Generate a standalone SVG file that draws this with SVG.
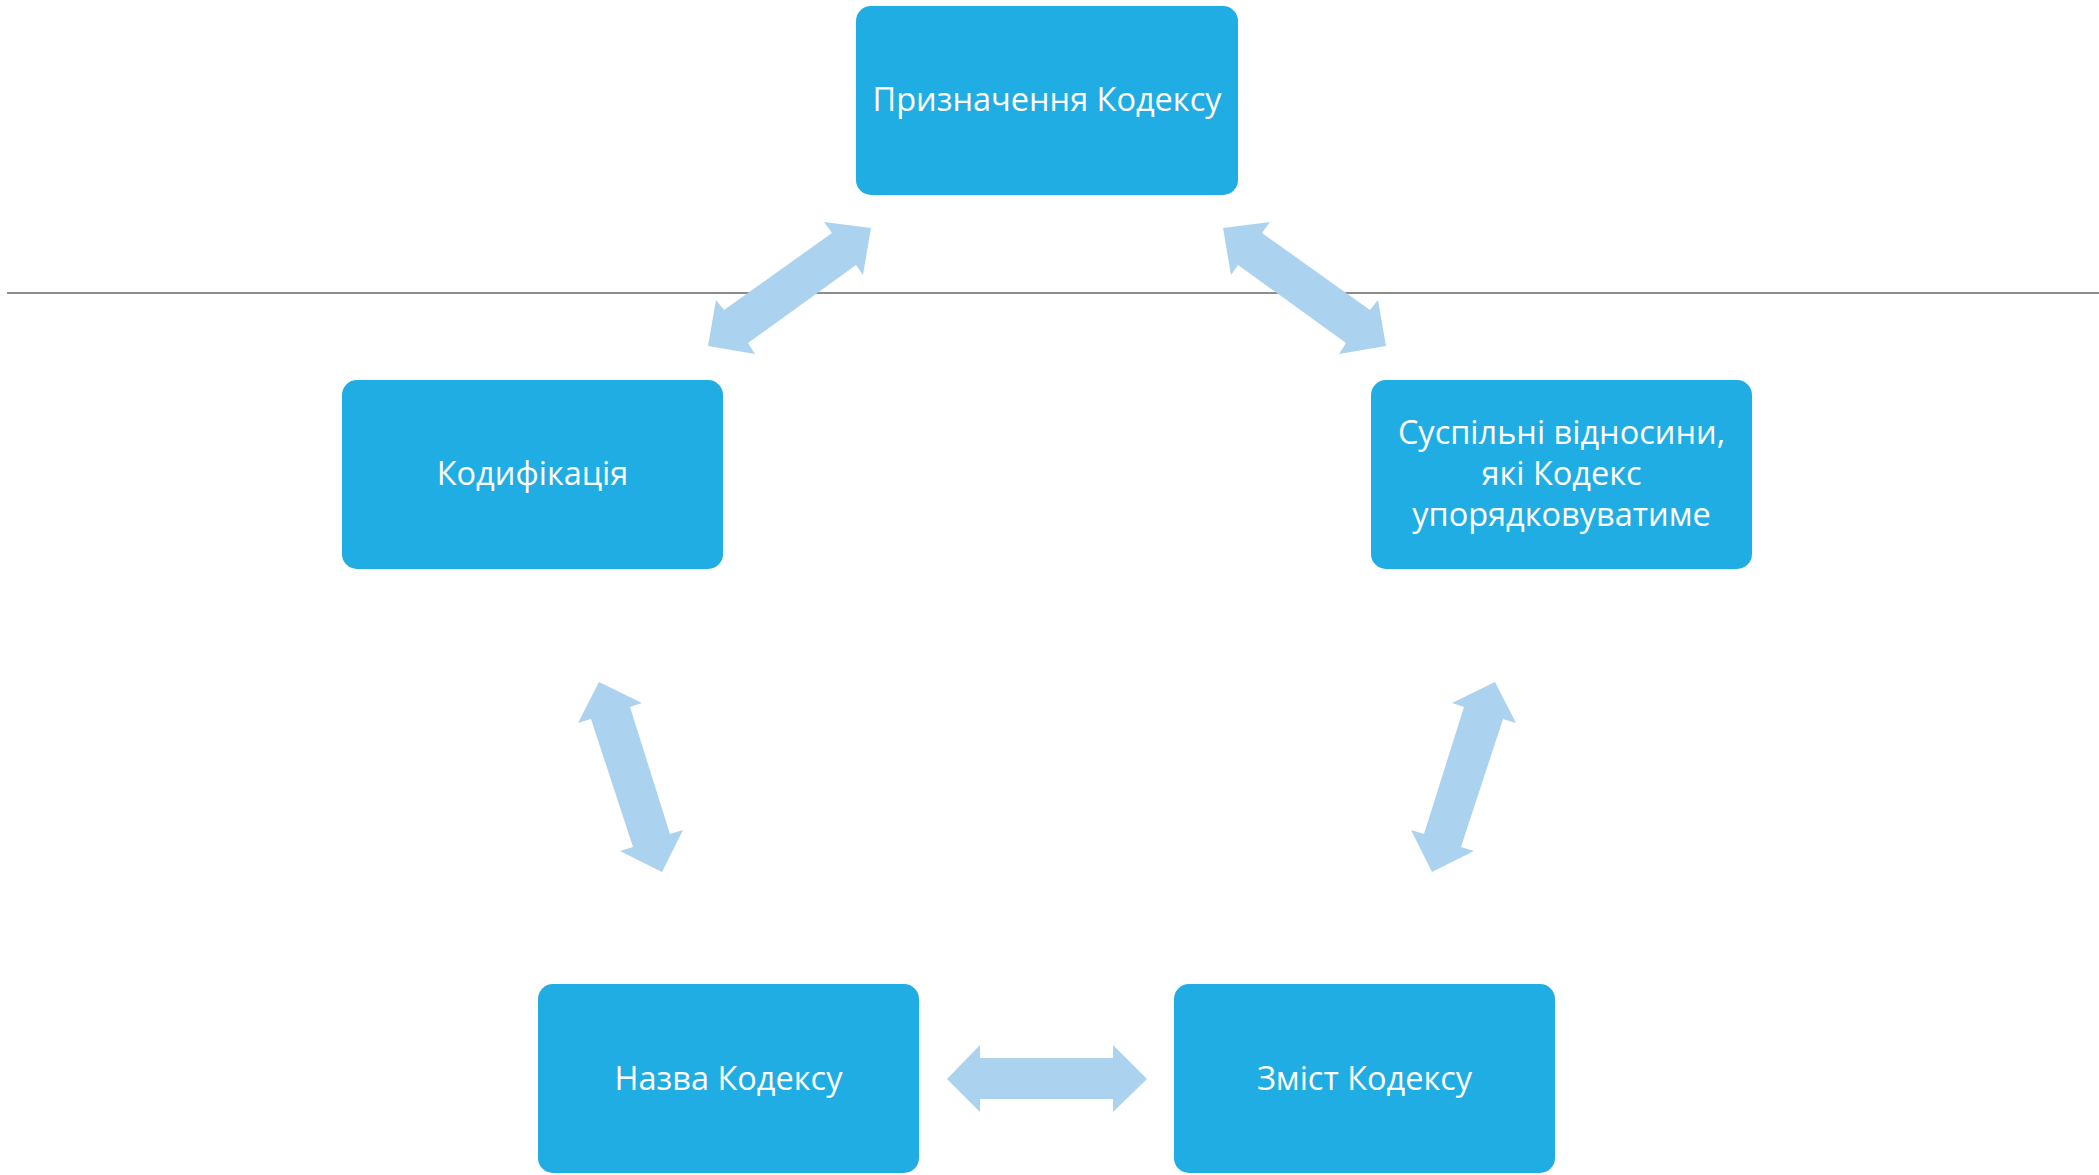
<svg xmlns="http://www.w3.org/2000/svg" width="2099" height="1175" viewBox="0 0 2099 1175">
<style>
.box{fill:#1FADE3}
.lbl{fill:#FFFFFF;font-family:"Open Sans","Noto Sans","DejaVu Sans",sans-serif;font-size:32.5px;text-anchor:middle}
.arr{fill:#ABD3EF}
</style>
<rect x="0" y="0" width="2099" height="1175" fill="#FFFFFF"/>
<line x1="7" y1="293" x2="2099" y2="293" stroke="#8C8C8C" stroke-width="2"/>
<g id="connectors">
<polygon class="arr" points="871,228 863,275 856,265 748,343 755,354 708,346 716,300 724,310 832,233 824,222"/>
<polygon class="arr" points="1223,228 1231,275 1238,265 1346,343 1339,354 1386,346 1378,300 1370,310 1262,233 1270,222"/>
<polygon class="arr" points="599,682 642,703 630,707 670,834 683,830 662,872 620,851 633,847 591,719 578,723"/>
<polygon class="arr" points="1495,682 1452,703 1464,707 1424,834 1411,830 1432,872 1474,851 1461,847 1503,719 1516,723"/>
<polygon class="arr" points="947,1079 980,1045 980,1058 1113,1058 1113,1045 1147,1079 1113,1112 1113,1099 980,1099 980,1112"/>
</g>
<g id="node-pryznachennia">
<rect class="box" x="856" y="6" width="382" height="189" rx="15"/>
<text class="lbl" x="1047" y="111">Призначення Кодексу</text>
</g>
<g id="node-kodyfikatsiia">
<rect class="box" x="342" y="380" width="381" height="189" rx="15"/>
<text class="lbl" x="532.5" y="485">Кодифікація</text>
</g>
<g id="node-suspilni">
<rect class="box" x="1371" y="380" width="381" height="189" rx="15"/>
<text class="lbl" x="1561.5" y="444">Суспільні відносини,</text>
<text class="lbl" x="1561.5" y="485">які Кодекс</text>
<text class="lbl" x="1561.5" y="526">упорядковуватиме</text>
</g>
<g id="node-nazva">
<rect class="box" x="538" y="984" width="381" height="189" rx="15"/>
<text class="lbl" x="728.5" y="1089.5">Назва Кодексу</text>
</g>
<g id="node-zmist">
<rect class="box" x="1174" y="984" width="381" height="189" rx="15"/>
<text class="lbl" x="1364.5" y="1090">Зміст Кодексу</text>
</g>
</svg>
